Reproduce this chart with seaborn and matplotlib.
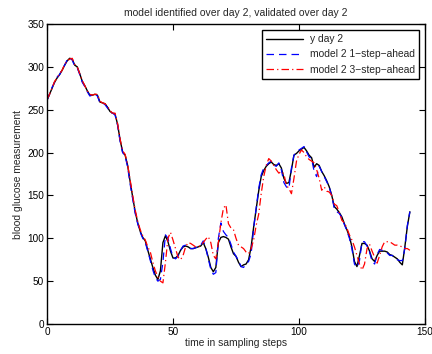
import matplotlib
matplotlib.use("Agg")
import matplotlib.pyplot as plt
import seaborn as sns
import pandas as pd

y_day2 = [261,268,275,282,287,291,296,302,307,310,
          309,302,300,292,283,278,272,267,267,268,
          267,259,258,257,253,248,246,245,233,215,
          201,197,185,166,148,131,118,108,101,97,
          86,76,66,57,52,62,95,103,96,85,
          77,77,80,86,90,91,90,88,88,89,
          90,91,95,88,78,66,61,66,95,101,
          102,101,99,90,82,79,72,67,69,70,
          75,90,113,134,155,172,179,184,187,189,
          186,185,187,182,170,164,165,180,197,199,
          202,204,206,202,197,194,183,187,185,178,
          173,167,160,150,137,134,130,125,117,110,
          102,90,73,67,80,94,94,92,85,76,
          73,80,85,85,85,84,81,80,78,76,
          72,69,90,114,131]

model_1step = [261,268,276,282,288,291,297,302,308,311,
               308,301,299,291,282,277,271,266,267,268,
               266,258,258,256,252,247,246,244,232,213,
               200,196,183,163,146,129,117,107,100,95,
               85,74,63,54,50,52,72,104,100,88,
               78,76,79,86,91,92,90,88,88,89,
               90,92,97,89,76,64,58,60,100,118,
               108,104,101,93,84,79,74,67,66,70,
               73,82,112,135,158,174,182,185,188,190,
               185,184,188,180,165,160,158,182,197,200,
               203,205,207,201,195,193,178,172,184,178,
               172,166,160,149,135,131,129,124,116,109,
               100,88,70,66,74,96,96,91,84,73,
               70,81,87,86,85,83,80,80,77,75,
               74,74,88,115,131]

model_3step = [262,268,275,283,287,292,296,303,307,309,
               310,303,300,292,284,278,272,268,267,268,
               268,260,258,257,254,249,246,246,234,216,
               202,198,186,168,150,133,120,110,103,98,
               90,84,72,62,55,50,48,72,100,107,
               98,88,78,75,80,90,95,94,92,90,
               90,92,95,99,102,95,80,76,95,118,
               135,139,117,112,110,100,92,90,88,84,
               82,88,98,115,128,152,172,185,193,190,
               185,180,176,178,175,162,158,152,170,190,
               198,203,200,195,192,190,188,180,170,156,
               160,155,154,150,140,138,130,121,118,112,
               104,98,90,80,70,63,70,88,93,85,
               78,71,80,90,96,96,96,94,92,92,
               91,90,88,88,86]

steps = list(range(len(y_day2)))

df = pd.DataFrame({"t": steps, "y": y_day2, "m1": model_1step, "m3": model_3step})

sns.set_theme(style="ticks")
plt.rcParams["font.family"] = ["Liberation Sans", "DejaVu Sans"]
plt.rcParams["xtick.direction"] = "in"
plt.rcParams["ytick.direction"] = "in"

fig = plt.figure(figsize=(4.32, 3.54), dpi=100)
ax = fig.add_axes([0.1088, 0.0847, 0.8750, 0.8475])

sns.lineplot(data=df, x="t", y="y", ax=ax, color="black", lw=1.0, label="y day 2")
sns.lineplot(data=df, x="t", y="m1", ax=ax, color="blue", lw=0.9, label="model 2 1\u2212step\u2212ahead")
sns.lineplot(data=df, x="t", y="m3", ax=ax, color="red", lw=0.9, label="model 2 3\u2212step\u2212ahead")
ax.lines[1].set_linestyle((0, (6, 4)))
ax.lines[2].set_linestyle((0, (6, 2.5, 1, 2.5)))

ax.set_xlim(0, 150)
ax.set_ylim(0, 350)
ax.set_xticks([0, 50, 100, 150])
ax.set_yticks(range(0, 351, 50))
ax.tick_params(axis="both", which="both", direction="in", top=True, right=True,
               length=4, width=0.8, labelsize=7.2, colors="black", pad=2)
for s in ax.spines.values():
    s.set_visible(True)
    s.set_linewidth(1.0)
    s.set_color("black")

ax.set_xlabel("time in sampling steps", fontsize=7.4, labelpad=1)
ax.set_ylabel("blood glucose measurement", fontsize=7.4, labelpad=3)
ax.set_title("model identified over day 2, validated over day 2", fontsize=7.5, pad=6)

leg = ax.legend(loc="upper right", fontsize=7.4, frameon=True, fancybox=False,
                edgecolor="black", framealpha=1, handlelength=3.6,
                borderaxespad=0.6, labelspacing=0.5, borderpad=0.4, handletextpad=0.6)
leg.get_frame().set_linewidth(1.0)

fig.savefig("out.png", dpi=100)
